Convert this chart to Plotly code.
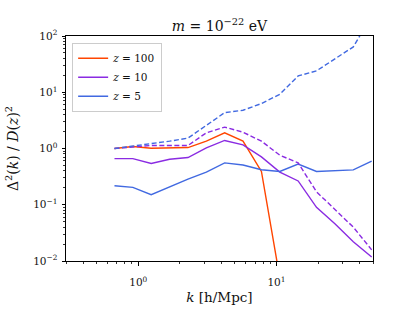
import numpy as np
import plotly.graph_objects as go

# wavenumbers [h/Mpc]
k = [0.673, 0.914, 1.241, 1.686, 2.29, 3.11, 4.22, 5.73, 7.79, 10.58, 14.36, 19.5, 26.5, 36.0, 48.9]

# solid lines
z100_solid = [1.0, 1.086, 1.01, 1.02, 1.04, 1.35, 1.9, 1.35, 0.39, 0.005]
z10_solid = [0.66, 0.66, 0.54, 0.645, 0.69, 1.03, 1.39, 1.16, 0.71, 0.38, 0.265, 0.09, 0.046, 0.022, 0.0118]
z5_solid = [0.218, 0.204, 0.151, 0.21, 0.285, 0.38, 0.555, 0.51, 0.42, 0.39, 0.53, 0.39, 0.40, 0.416, 0.594]

# dashed lines
z10_dashed = [1.0, 1.07, 1.13, 1.13, 1.13, 1.9, 2.4, 1.95, 1.35, 0.76, 0.555, 0.17, 0.081, 0.040, 0.0158]
z5_dashed = [1.0, 1.1, 1.21, 1.35, 1.53, 2.57, 4.34, 4.78, 6.3, 9.2, 19.5, 24.0, 39.0, 64.0, 230.0]

labels = ["<i>z</i> = 100", "<i>z</i> = 10", "<i>z</i> = 5"]
colors = ["#FF4500", "#8A2BE2", "#4169E1"]

xtickvals = [1, 10]
xticktext = ["10<sup>0</sup>", "10<sup>1</sup>"]
ytickvals = [0.01, 0.1, 1, 10, 100]
yticktext = ["10<sup>−2</sup>", "10<sup>−1</sup>", "10<sup>0</sup>", "10<sup>1</sup>", "10<sup>2</sup>"]

FONT = "DejaVu Serif"
TXT = "#111111"
W = 1.4

fig = go.Figure()
solids = [z100_solid, z10_solid, z5_solid]
for lab, c, ys in zip(labels, colors, solids):
    fig.add_trace(go.Scatter(x=k[:len(ys)], y=ys, mode="lines", name=lab,
                             line=dict(color=c, width=W)))
fig.add_trace(go.Scatter(x=k, y=z10_dashed, mode="lines", showlegend=False,
                         line=dict(color=colors[1], width=W, dash="5px,2.5px")))
fig.add_trace(go.Scatter(x=k, y=z5_dashed, mode="lines", showlegend=False,
                         line=dict(color=colors[2], width=W, dash="5px,2.5px")))

axis_common = dict(type="log", showgrid=False, zeroline=False, showline=True,
                   linecolor="black", linewidth=1, mirror=True,
                   ticks="outside", ticklen=3.5, tickwidth=1, tickcolor="black",
                   tickfont=dict(family=FONT, size=10.5, color=TXT),
                   minor=dict(ticks="outside", ticklen=2, dtick="D1", tickcolor="#333333",
                              tickwidth=0.6, showgrid=False))

fig.update_xaxes(range=[np.log10(0.3), np.log10(50)], tickvals=xtickvals, ticktext=xticktext,
                 ticklabelstandoff=8,
                 title=dict(text="<i>k</i> [h/Mpc]", font=dict(family=FONT, size=13.5, color=TXT), standoff=5),
                 **axis_common)
fig.update_yaxes(range=[-2, 2], tickvals=ytickvals, ticktext=yticktext,
                 ticklabelstandoff=2,
                 title=dict(text="Δ<sup>2</sup>(<i>k</i>) / <i>D</i>(<i>z</i>)<sup>2</sup>",
                            font=dict(family=FONT, size=14, color=TXT), standoff=11),
                 **axis_common)

fig.update_layout(
    width=415, height=311,
    margin=dict(l=66, r=42, t=36, b=50, autoexpand=False),
    paper_bgcolor="white", plot_bgcolor="white",
    title=dict(text="<i>m</i> = 10<sup>−22</sup> eV", x=0.5, xref="paper", xanchor="center",
               y=1, yref="paper", yanchor="bottom", pad=dict(b=5),
               font=dict(family=FONT, size=14, color=TXT)),
    legend=dict(x=0.02, y=0.97, xanchor="left", yanchor="top",
                bordercolor="#cccccc", borderwidth=1, bgcolor="rgba(255,255,255,0.8)",
                font=dict(family=FONT, size=10.5, color=TXT), itemwidth=30),
    showlegend=True,
)

fig.write_html("out.html", config={"displayModeBar": False},
               post_script="document.body.style.margin='0px';")
